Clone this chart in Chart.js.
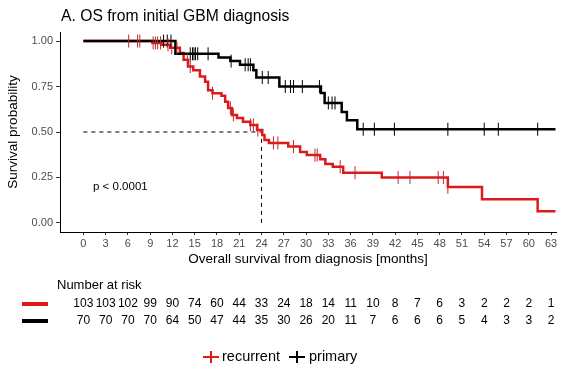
<!DOCTYPE html>
<html>
<head>
<meta charset="utf-8">
<script src="https://cdn.jsdelivr.net/npm/chart.js@4.4.1/dist/chart.umd.min.js"></script>
<style>
  html, body { margin: 0; padding: 0; background: #fff; }
</style>
</head>
<body>
<canvas id="km" width="567" height="375"></canvas>
<script>
const xTicks = [0, 3, 6, 9, 12, 15, 18, 21, 24, 27, 30, 33, 36, 39, 42, 45, 48, 51, 54, 57, 60, 63];
const yTicks = [0, 0.25, 0.5, 0.75, 1];

// Kaplan-Meier steps (time in months, survival after the step)
const recurrentTimes = [0, 9.3, 10.5, 11.7, 13.0, 13.5, 14.1, 14.8, 15.7, 16.4, 16.8, 17.4, 18.6, 19.1, 19.5, 20.0, 20.7, 21.5, 22.5, 23.4, 24.1, 24.4, 25.0, 27.6, 29.2, 30.1, 31.9, 32.6, 33.6, 35.0, 40.2, 49.1, 53.7, 61.2, 63.6];
const recurrentSurv = [1, 0.99, 0.98, 0.963, 0.935, 0.897, 0.86, 0.84, 0.805, 0.777, 0.73, 0.713, 0.70, 0.667, 0.632, 0.594, 0.577, 0.557, 0.539, 0.511, 0.483, 0.456, 0.44, 0.42, 0.39, 0.373, 0.35, 0.324, 0.309, 0.276, 0.25, 0.197, 0.13, 0.064, 0.064];
const primaryTimes = [0, 12.4, 18.2, 19.8, 21.1, 22.9, 23.3, 26.4, 32.0, 32.5, 34.8, 35.5, 36.9, 63.6];
const primarySurv = [1, 0.93, 0.91, 0.89, 0.87, 0.84, 0.80, 0.75, 0.715, 0.66, 0.61, 0.565, 0.515, 0.515];

// censoring times
const recurrentCensor = [6.1, 7.3, 7.6, 9.4, 9.7, 10.0, 10.4, 11.4, 11.9, 12.6, 14.0, 14.4, 17.4, 19.8, 20.2, 22.5, 22.9, 23.5, 25.6, 26.2, 28.3, 31.2, 31.5, 34.6, 36.6, 42.4, 44.0, 47.8, 48.5, 49.1];
const primaryCensor = [10.8, 11.3, 11.8, 14.4, 14.7, 14.9, 15.1, 15.4, 16.8, 19.9, 21.8, 22.2, 22.5, 24.1, 24.9, 27.2, 27.9, 28.3, 29.5, 31.8, 33.0, 33.5, 33.9, 37.7, 39.2, 41.9, 49.1, 54.0, 55.9, 61.2];

const riskRecurrent = [103, 103, 102, 99, 90, 74, 60, 44, 33, 24, 18, 14, 11, 10, 8, 7, 6, 3, 2, 2, 2, 1];
const riskPrimary = [70, 70, 70, 70, 64, 50, 47, 44, 35, 30, 26, 20, 11, 7, 6, 6, 6, 5, 4, 3, 3, 2];

const medianTime = 24;
const groupNames = ['recurrent', 'primary'];
const RED = '#dd1a1a';
const FONT = '"Liberation Sans", Arial, sans-serif';

function survAt(times, surv, t) {
  let s = surv[0];
  for (let i = 0; i < times.length; i++) {
    if (times[i] <= t) s = surv[i];
  }
  return s;
}

const toPoints = (times, surv) => times.map((t, i) => ({x: t, y: surv[i]}));
const censorPoints = (cens, times, surv) => cens.map(t => ({x: t, y: survAt(times, surv, t)}));

Chart.defaults.font.family = FONT;

const decor = {
  id: 'decor',
  afterDraw(chart) {
    const ctx = chart.ctx;
    const xs = chart.scales.x;
    const ys = chart.scales.y;
    ctx.save();
    ctx.fillStyle = '#000';
    ctx.textBaseline = 'middle';

    ctx.font = '15.7px ' + FONT;
    ctx.textAlign = 'left';
    ctx.fillText('A. OS from initial GBM diagnosis', 61, 17);

    ctx.font = '11.5px ' + FONT;
    ctx.fillText('p < 0.0001', xs.getPixelForValue(1.3), ys.getPixelForValue(0.2));

    // number at risk table
    ctx.font = '13px ' + FONT;
    ctx.fillText('Number at risk', 57, 285);
    ctx.font = '12px ' + FONT;
    ctx.textAlign = 'center';
    const rows = [[riskRecurrent, 304, RED], [riskPrimary, 321, '#000']];
    rows.forEach(([vals, y, col]) => {
      ctx.fillStyle = col;
      ctx.fillRect(22, y - 2, 26, 4);
      ctx.fillStyle = '#000';
      vals.forEach((v, i) => ctx.fillText(String(v), xs.getPixelForValue(xTicks[i]), y));
    });

    // legend
    const keys = [[211, 222, RED, groupNames[0]], [297, 309, '#000', groupNames[1]]];
    ctx.textAlign = 'left';
    ctx.font = '14.5px ' + FONT;
    keys.forEach(([kx, tx, col, label]) => {
      ctx.strokeStyle = col;
      ctx.lineWidth = 2;
      ctx.beginPath();
      ctx.moveTo(kx - 8, 357); ctx.lineTo(kx + 8, 357);
      ctx.moveTo(kx, 351); ctx.lineTo(kx, 363);
      ctx.stroke();
      ctx.fillStyle = '#000';
      ctx.fillText(label, tx, 357);
    });
    ctx.restore();
  }
};

new Chart(document.getElementById('km'), {
  type: 'line',
  data: {
    datasets: [
      {
        label: groupNames[0] + ' censored',
        data: censorPoints(recurrentCensor, recurrentTimes, recurrentSurv),
        showLine: false, pointStyle: 'line', rotation: 90, pointRadius: 6.5,
        borderColor: '#c0282a', borderWidth: 1
      },
      {
        label: groupNames[1] + ' censored',
        data: censorPoints(primaryCensor, primaryTimes, primarySurv),
        showLine: false, pointStyle: 'line', rotation: 90, pointRadius: 6.5,
        borderColor: '#000', borderWidth: 1
      },
      {
        label: groupNames[1],
        data: toPoints(primaryTimes, primarySurv),
        stepped: 'before', borderColor: '#000', borderWidth: 2.5, pointRadius: 0
      },
      {
        label: groupNames[0],
        data: toPoints(recurrentTimes, recurrentSurv),
        stepped: 'before', borderColor: RED, borderWidth: 2.5, pointRadius: 0
      },
      {
        label: 'median h',
        data: [{x: 0, y: 0.5}, {x: medianTime, y: 0.5}],
        borderColor: '#000', borderWidth: 1, borderDash: [4, 4], pointRadius: 0
      },
      {
        label: 'median v',
        data: [{x: medianTime, y: 0}, {x: medianTime, y: 0.5}],
        borderColor: '#000', borderWidth: 1, borderDash: [4, 4], pointRadius: 0
      }
    ]
  },
  options: {
    responsive: false,
    animation: false,
    devicePixelRatio: 1,
    layout: {padding: {top: 32, right: 11, bottom: 104, left: 0}},
    plugins: {legend: {display: false}, tooltip: {enabled: false}},
    scales: {
      x: {
        type: 'linear',
        min: -3.15,
        max: 63.67,
        afterBuildTicks: s => { s.ticks = xTicks.map(v => ({value: v})); },
        afterFit: s => { s.height = 39; },
        ticks: {color: '#4d4d4d', font: {size: 11}, padding: 2, maxRotation: 0, autoSkip: false},
        grid: {drawOnChartArea: false, drawTicks: true, tickLength: 3, color: '#333'},
        border: {display: true, color: '#000', width: 1},
        title: {display: true, text: 'Overall survival from diagnosis [months]', color: '#000',
                font: {size: 13.5}, padding: {top: 0, bottom: 4}}
      },
      y: {
        type: 'linear',
        min: -0.05,
        max: 1.05,
        afterBuildTicks: s => { s.ticks = yTicks.map(v => ({value: v})); },
        afterFit: s => { s.width = 60; },
        ticks: {color: '#4d4d4d', font: {size: 11}, padding: 3, callback: v => v.toFixed(2)},
        grid: {drawOnChartArea: false, drawTicks: true, tickLength: 4, color: '#333'},
        border: {display: true, color: '#000', width: 1},
        title: {display: true, text: 'Survival probability', color: '#000',
                font: {size: 13.5}, padding: {top: 5, bottom: 0}}
      }
    }
  },
  plugins: [decor]
});
</script>
</body>
</html>
